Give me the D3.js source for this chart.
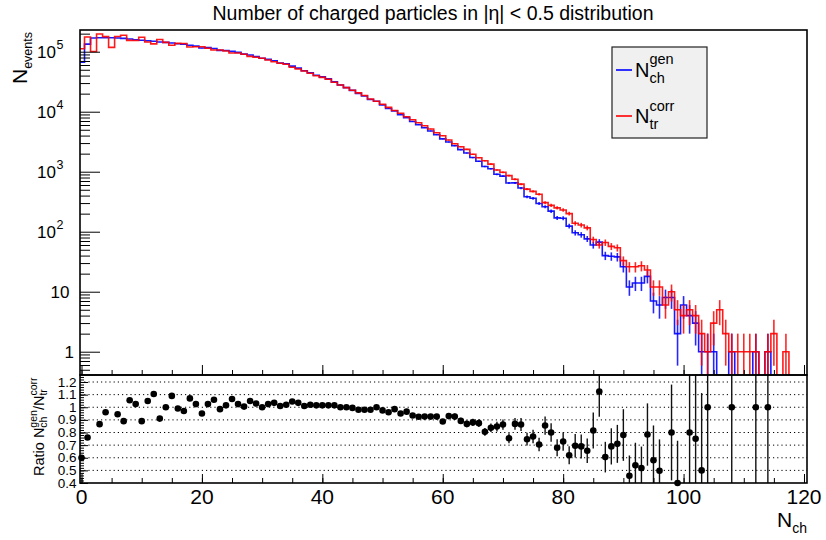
<!DOCTYPE html>
<html><head><meta charset="utf-8">
<script src="https://cdn.jsdelivr.net/npm/d3@7/dist/d3.min.js"></script>
<style>
body{margin:0;background:#fff}
text{font-family:"Liberation Sans",Arial,Helvetica,sans-serif;fill:#000}
</style>
</head><body>
<svg id="c" width="826" height="540"></svg>
<script>
// ---------------- data ----------------
const nchBins = d3.range(0, 121); // bin centres 0..120
const genCounts = [67000,134000,169000,171000,171000,171000,169000,167000,163000,158000,
155000,152000,149000,145000,143000,140000,136000,133000,128000,124000,
115000,116900,113400,105400,104500,101200,97400,91000,87900,83100,
77600,74600,70500,64700,62900,57500,53300,48200,44600,40400,
38000,35200,31400,27900,25200,22700,20200,18230,15970,14900,
12970,11330,10340,8930,7970,6880,6070,5410,4770,4140,
3530,3130,2710,2330,2050,1720,1490,1220,1120,906,
843,649,651,535,382,361,296,261,220,170,
168,124,96,89,76,60,67,40,39,38,
26,12,14,14,18,7,6,8,8,2,
6,4,3,1,1,1,0,0,1,0,
0,0,1,0,1,0,0,0,0,0,0];
const corrCounts = [111700,176300,101000,197500,178100,118000,178800,187600,154500,154100,
174200,144800,134800,159300,143000,128400,137400,137100,119600,121000,
121000,114000,107000,107000,103000,95000,95000,90500,83700,80700,
77600,72800,68100,64100,61700,55000,51500,47700,43700,39800,
37400,34700,30900,27900,25200,22800,20600,18600,16300,14900,
13300,11800,10500,9400,8260,7360,6560,5840,5150,4470,
3980,3370,2930,2610,2360,1950,1710,1520,1340,1070,
977,860,750,620,512,470,420,305,275,250,
230,200,138,129,116,74,60,66,57,54,
33,26,26,27,23,12,12,6,10,5,
4,5,4,2,1,3,5,2,1,1,
1,1,1,0,1,2,0,1,0,0,0];
const ratioVals = [0.6,0.76,null,0.866,0.96,null,0.945,0.89,1.055,1.025,
0.89,1.05,1.105,0.91,1.0,1.09,0.99,0.97,1.07,1.025,
0.95,1.025,1.06,0.985,1.015,1.065,1.025,1.005,1.05,1.03,
1.0,1.025,1.035,1.01,1.02,1.045,1.035,1.01,1.02,1.015,
1.015,1.015,1.015,1.0,1.0,0.995,0.98,0.98,0.98,1.0,
0.975,0.96,0.985,0.95,0.965,0.935,0.925,0.926,0.926,0.926,
0.887,0.93,0.926,0.892,0.868,0.88,0.874,0.805,0.837,0.847,
0.863,0.755,0.868,0.863,0.747,0.768,0.705,0.855,0.8,0.679,
0.729,0.62,0.695,0.69,0.655,0.816,1.124,0.605,0.69,0.71,
0.78,0.458,0.54,0.518,0.784,0.58,0.497,null,0.8,0.4,
null,0.8,0.75,0.5,1.0,null,null,null,1.0,null,
null,null,1.0,null,1.0,null,null,null,null,null,null];
const xTickVals = [0,20,40,60,80,100,120];
const xMinorVals = d3.range(0, 121, 5);
const logTickVals = [1,10,100,1000,10000,100000];
const logTickLabels = [["1",""],["10",""],["10","2"],["10","3"],["10","4"],["10","5"]];
const ratioTickVals = [0.4,0.5,0.6,0.7,0.8,0.9,1.0,1.1,1.2];
const ratioTickLabels = ["0.4","0.5","0.6","0.7","0.8","0.9","1","1.1","1.2"];
const ratioGridVals = [0.5,0.6,0.7,0.8,0.9,1.0,1.1,1.2];
const titleText = "Number of charged particles in |\u03b7| < 0.5 distribution";

// ---------------- layout ----------------
const L = 80, R = 807, T = 30, MID = 375, B = 483;
const svg = d3.select("#c");
const x = d3.scaleLinear().domain([-0.25, 120.5]).range([L, R]);
const yT = d3.scaleLog().domain([0.409, 2.3e5]).range([MID, T]);
const yR = d3.scaleLinear().domain([0.4, 1.2555]).range([B, MID]);

const defs = svg.append("defs");
defs.append("clipPath").attr("id","clipT").append("rect")
  .attr("x", L).attr("y", T).attr("width", R-L).attr("height", MID-T);
defs.append("clipPath").attr("id","clipR").append("rect")
  .attr("x", L).attr("y", MID).attr("width", R-L).attr("height", B-MID);

function rich(parent, px, py, rot, pieces) {
  const g = parent.append("g").attr("transform", `translate(${px},${py}) rotate(${rot})`);
  let cx = 0;
  pieces.forEach(p => {
    if (p.t !== undefined) {
      const t = g.append("text").attr("x", cx).attr("y", 0).style("font-size", p.s + "px").text(p.t);
      cx += t.node().getComputedTextLength();
    } else {
      let w = 0;
      if (p.sup) {
        const t = g.append("text").attr("x", cx).attr("y", p.supDy).style("font-size", p.s + "px").text(p.sup);
        w = Math.max(w, t.node().getComputedTextLength());
      }
      if (p.sub) {
        const t = g.append("text").attr("x", cx).attr("y", p.subDy).style("font-size", p.s + "px").text(p.sub);
        w = Math.max(w, t.node().getComputedTextLength());
      }
      cx += w;
    }
  });
  return g;
}

// ---------------- top panel ----------------
const gTop = svg.append("g").attr("clip-path", "url(#clipT)");
function yv(v) { return v > 0 ? yT(v) : MID + 3; }
function stepPts(arr) {
  const pts = [];
  nchBins.forEach((b, i) => {
    pts.push([x(b - 0.5), yv(arr[i])]);
    pts.push([x(b + 0.5), yv(arr[i])]);
  });
  return pts;
}
const line = d3.line();
function drawHist(arr, color) {
  gTop.append("path").attr("d", line(stepPts(arr)))
    .attr("fill", "none").attr("stroke", color).attr("stroke-width", 1.6)
    .attr("stroke-opacity", 0.9);
  gTop.selectAll(null).data(nchBins.filter((b, i) => arr[i] > 0)).enter().append("line")
    .attr("x1", b => x(b)).attr("x2", b => x(b))
    .attr("y1", b => { const v = arr[b], lo = v - Math.sqrt(v); return lo > 0.409 ? yT(lo) : MID + 3; })
    .attr("y2", b => { const v = arr[b]; return yT(v + Math.sqrt(v)); })
    .attr("stroke", color).attr("stroke-width", 1.6).attr("stroke-opacity", 0.85);
}
drawHist(genCounts, "#0000ff");
drawHist(corrCounts, "#ff0000");

// y axis ticks (top)
const minorLog = [];
[-1,0,1,2,3,4,5].forEach(k => { for (let m = 2; m <= 9; m++) { const v = m * Math.pow(10, k); if (v > 0.409 && v < 2.3e5) minorLog.push(v); } });
svg.append("g").attr("transform", `translate(${L},0)`)
  .call(d3.axisRight(yT).tickValues(logTickVals).tickSize(20).tickFormat(""));
svg.append("g").attr("transform", `translate(${L},0)`)
  .call(d3.axisRight(yT).tickValues(minorLog).tickSize(10).tickFormat(""));
// x ticks for top panel
svg.append("g").attr("transform", `translate(0,${MID})`)
  .call(d3.axisTop(x).tickValues(xTickVals).tickSize(10).tickFormat(""));
svg.append("g").attr("transform", `translate(0,${MID})`)
  .call(d3.axisTop(x).tickValues(xMinorVals).tickSize(5).tickFormat(""));

// log labels
logTickVals.forEach((v, i) => {
  const [base, ex] = logTickLabels[i];
  const yy = yT(v);
  if (ex) {
    svg.append("text").attr("x", 56).attr("y", yy + 6.5).attr("text-anchor", "end")
      .style("font-size", "17px").text(base);
    svg.append("text").attr("x", 56.5).attr("y", yy - 2.5)
      .style("font-size", "12.5px").text(ex);
  } else {
    svg.append("text").attr("x", base === "1" ? 74 : 69.5).attr("y", yy + 6.5).attr("text-anchor", "end")
      .style("font-size", "17px").text(base);
  }
});

// ---------------- ratio panel ----------------
const gR = svg.append("g");
gR.selectAll(null).data(ratioGridVals).enter().append("line")
  .attr("x1", L).attr("x2", R).attr("y1", d => yR(d)).attr("y2", d => yR(d))
  .attr("stroke", "#000").attr("stroke-width", 1).attr("stroke-dasharray", "1.2,3");

const rData = nchBins.map((b, i) => ({ b, r: ratioVals[i], g: genCounts[i], c: corrCounts[i] }))
  .filter(d => d.r !== null);
const gRc = gR.append("g").attr("clip-path", "url(#clipR)");
gRc.selectAll(null).data(rData).enter().append("line")
  .attr("x1", d => x(d.b)).attr("x2", d => x(d.b))
  .attr("y1", d => yR(d.r + d.r * Math.sqrt(1 / d.g + 1 / d.c)))
  .attr("y2", d => yR(Math.max(0.3, d.r - d.r * Math.sqrt(1 / d.g + 1 / d.c))))
  .attr("stroke", "#111").attr("stroke-width", 1.4);
gR.selectAll(null).data(rData).enter().append("circle")
  .attr("cx", d => x(d.b)).attr("cy", d => yR(d.r)).attr("r", 3.3).attr("fill", "#000");

// ratio axis ticks
const ratioMinor = d3.range(0.4, 1.2555, 0.02).map(v => +v.toFixed(2));
svg.append("g").attr("transform", `translate(${L},0)`)
  .call(d3.axisRight(yR).tickValues(ratioTickVals).tickSize(8).tickFormat(""));
svg.append("g").attr("transform", `translate(${L},0)`)
  .call(d3.axisRight(yR).tickValues(ratioMinor).tickSize(4).tickFormat(""));
svg.append("g").attr("transform", `translate(0,${B})`)
  .call(d3.axisTop(x).tickValues(xTickVals).tickSize(9).tickFormat(""));
svg.append("g").attr("transform", `translate(0,${B})`)
  .call(d3.axisTop(x).tickValues(xMinorVals).tickSize(5).tickFormat(""));
ratioTickVals.forEach((v, i) => {
  svg.append("text").attr("x", 76.5).attr("y", yR(v) + 4.6).attr("text-anchor", "end")
    .style("font-size", "13.5px").text(ratioTickLabels[i]);
});

// x tick labels
xTickVals.forEach(v => {
  svg.append("text").attr("x", x(v)).attr("y", 504).attr("text-anchor", "middle")
    .style("font-size", "21px").text(String(v));
});

// clean axis domains & tick colors
svg.selectAll(".domain").remove();
svg.selectAll(".tick line").attr("stroke", "#000").attr("stroke-width", 1);

// frames
svg.append("rect").attr("x", L).attr("y", T).attr("width", R - L).attr("height", MID - T)
  .attr("fill", "none").attr("stroke", "#000").attr("stroke-width", 1.6);
svg.append("rect").attr("x", L).attr("y", MID).attr("width", R - L).attr("height", B - MID)
  .attr("fill", "none").attr("stroke", "#000").attr("stroke-width", 1.6);

// ---------------- titles ----------------
svg.append("text").attr("x", 433).attr("y", 19.5).attr("text-anchor", "middle")
  .style("font-size", "19.5px").text(titleText);
rich(svg, 27, 84, -90, [{ t: "N", s: 21 }, { sub: "events", s: 12.5, subDy: 5 }]);
rich(svg, 43.5, 476, -90, [
  { t: "Ratio N", s: 14.5 }, { sup: "gen", sub: "ch", s: 10.5, supDy: -6.5, subDy: 3.5 },
  { t: "/N", s: 14.5 }, { sup: "corr", sub: "tr", s: 10.5, supDy: -6.5, subDy: 3.5 }]);
rich(svg, 777, 527, 0, [{ t: "N", s: 21 }, { sub: "ch", s: 14, subDy: 6 }]);

// ---------------- legend ----------------
svg.append("rect").attr("x", 612).attr("y", 47).attr("width", 95).attr("height", 91)
  .attr("fill", "#f0f0f0").attr("stroke", "#222").attr("stroke-width", 1.2);
svg.append("line").attr("x1", 616).attr("x2", 632).attr("y1", 70).attr("y2", 70)
  .attr("stroke", "#0000ff").attr("stroke-width", 1.6);
svg.append("line").attr("x1", 616).attr("x2", 632).attr("y1", 116).attr("y2", 116)
  .attr("stroke", "#ff0000").attr("stroke-width", 1.6);
rich(svg, 635, 77, 0, [{ t: "N", s: 20 }, { sup: "gen", sub: "ch", s: 14.5, supDy: -13, subDy: 5.5 }]);
rich(svg, 635, 123, 0, [{ t: "N", s: 20 }, { sup: "corr", sub: "tr", s: 14.5, supDy: -12, subDy: 5.5 }]);
</script>
</body></html>
